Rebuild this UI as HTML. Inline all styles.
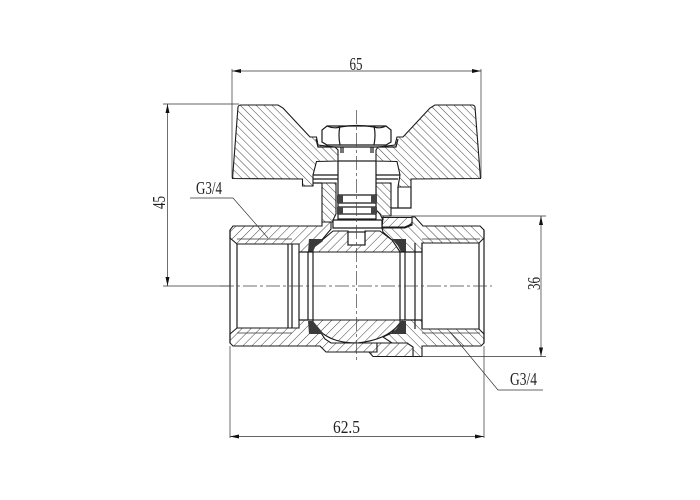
<!DOCTYPE html>
<html><head><meta charset="utf-8"><style>
html,body{margin:0;padding:0;background:#fff;width:700px;height:500px;overflow:hidden}
svg{display:block}
text{font-family:"Liberation Serif",serif;font-size:18px;fill:#222}
.k{stroke:#1a1a1a;stroke-width:1.2;fill:none}
.t{stroke:#333;stroke-width:.7;fill:none}
.b{stroke:#1a1a1a;stroke-width:1.1}
.c{stroke:#444;stroke-width:.7;fill:none;stroke-dasharray:14 3 3 3}
</style></head><body>
<svg width="700" height="500" viewBox="0 0 700 500" xmlns="http://www.w3.org/2000/svg">
<defs>
<pattern id="h1" width="5.6" height="5.6" patternUnits="userSpaceOnUse" patternTransform="rotate(-45)"><rect width="5.6" height="5.6" fill="#fff"/><line x1="0" y1="0" x2="0" y2="5.6" stroke="#444" stroke-width="1"/></pattern>
<pattern id="h3" width="6.4" height="6.4" patternUnits="userSpaceOnUse" patternTransform="rotate(-45)"><rect width="6.4" height="6.4" fill="#fff"/><line x1="0" y1="0" x2="0" y2="6.4" stroke="#444" stroke-width="1"/></pattern>
<pattern id="h2" width="6.4" height="6.4" patternUnits="userSpaceOnUse" patternTransform="rotate(45)"><rect width="6.4" height="6.4" fill="#fff"/><line x1="0" y1="0" x2="0" y2="6.4" stroke="#444" stroke-width="1"/></pattern>
</defs>
<rect width="700" height="500" fill="#fff"/>

<!-- body left -->
<path class="b" fill="url(#h2)" d="M233,226 H322 V222 H331 V229 L321,241 L313,246 V252 H299 V244 H237 L230,238 V230 Z"/>
<path class="b" fill="url(#h2)" d="M230,334 L237,328 H299 V320 H313 V324 L321,333 L325,339 L331,343 H377 V352 H326 L320,346 H233 L230,343 Z"/>
<!-- body right -->
<path class="b" fill="url(#h3)" d="M412,217 H415 L423,226 H480 L484,230 V238 L479,243 H422 V252 H400 L392,240 L383,232 L382,228 H405 L412,225 Z"/>
<path class="b" fill="url(#h2)" d="M383,217.500 H412 V224 L405,227 H382 Z"/>
<path class="b" fill="url(#h3)" d="M400,320 H422 V329 H479 L484,334 V343 L481,346 H422 V356.500 H413 V347 L407,343 H392 L383,337 L392,333 Z"/>
<path class="b" fill="url(#h2)" d="M377,343 H407 L413,347 V356.500 H373 L369,352 H377 Z"/>

<!-- ball -->
<path class="b" fill="url(#h2)" d="M313,252 V246 L321,241 L333,231 H348 V245 H365 V231 H380 L392,240 L400,252 Z"/>
<path class="b" fill="url(#h2)" d="M313,320 H400 V323 C392,334 378,341 357,343 C340,343 330,339 322,333 L313,324 Z"/>

<!-- seats -->
<path fill="#3a3a3a" d="M309,239 H322 L323,241 L315,247 L313,252 H308 Z"/>
<path fill="#3a3a3a" d="M392,239 H406 V252 H401 L398,246 Z"/>
<path fill="#3a3a3a" d="M308,321 H313 L323,333 V334 H309 Z"/>
<path fill="#3a3a3a" d="M401,321 H406 V334 H391 L397,328 Z"/>

<!-- bore -->
<path class="k" d="M308,252 V320 M313,252 V320 M299,252 V320 M400,252 V320 M405,252 V320 M415,243 V329 M422,243 V329 M299,252 H313 M400,252 H422 M299,320 H313 M400,320 H422"/>
<path class="k" d="M237,244 V328 M292,244 V328 M288,244 V328 M479,243 V329 M484,230 V343 M230,230 V343"/>
<path class="t" d="M237,239 H292 M237,333 H292 M422,239 H480 M422,333 H480"/>

<!-- stem housing -->
<path class="b" fill="url(#h1)" d="M322,183 H336 V214 L333,220 V222 H322 Z"/>
<path class="b" fill="url(#h1)" d="M376,183 H391 V216 H383 V220 L380,214 L376,210 Z"/>
<!-- stem -->
<rect x="338" y="161" width="38" height="58" fill="#fff" stroke="#1a1a1a" stroke-width="1.2"/>
<path fill="#fff" class="k" d="M333,220 H382 V228 H333 Z"/>
<path class="k" d="M339,195 H375 V203 H339 Z M339,207 H375 V214 H339 Z"/>
<rect x="337" y="195" width="6" height="8" fill="#444"/><rect x="371" y="195" width="6" height="8" fill="#444"/>
<rect x="337" y="207" width="6" height="7" fill="#444"/><rect x="371" y="207" width="6" height="7" fill="#444"/>
<rect x="348" y="232" width="17" height="13" fill="#fff" stroke="#1a1a1a" stroke-width="1.2"/>
<path class="k" d="M405,227 L412,224"/>

<!-- handle -->
<path class="b" fill="url(#h1)" d="M232.500,178.500 L238,107 Q238.500,105 241,105 H278 L283,108 L310,137 H316.500 L318,145 L335,147 L338,150 V161 L316.500,161.500 L313,175 V186 H302.500 V179 Z"/>
<path class="b" fill="url(#h1)" d="M480.500,178.500 L475,107 Q474.500,105 472,105 H435 L430,108 L403,137 H397 L395,145 L378,147 L376,150 V161 L397,161.500 L400,175 L398,187 H411 V179 Z"/>
<path class="k" d="M313,175 H338 M313,179 H338 M322,183 H313 M376,175 H400 M376,179 H398 M398,187 V208 H411 V187 M391,208 H398"/>
<path class="k" d="M316,139 L318,147 H396 L398,139"/>

<!-- hex nut -->
<path fill="#fff" stroke="#1a1a1a" stroke-width="1.2" d="M327,126 H386 L391,130 V142 L386,145 H327 L322,142 V130 Z"/>
<path class="k" d="M340,126 Q338,135 340,145 M374,126 Q376,135 374,145 M327,126 Q334,129 340,127 Q357,124 374,127 Q380,129 386,126"/>
<path class="k" d="M341,147 V153 M343,147 V153 M371,147 V153 M373,147 V153"/>

<!-- dimensions -->
<g class="t">
<path d="M232,69 V178 M481,69 V178 M232,71 H481"/>
<path d="M163,104 H239 M163,286 H230 M167.500,104 V286"/>
<path d="M391,216 H546 M422,356.500 H546 M541,216 V356.500"/>
<path d="M230,346 V438 M484,346 V438 M230,436.500 H484"/>
<path d="M190,198 H233 L268,238"/>
<path d="M450,332 L498,390 H543"/>
</g>
<path d="M232,71 l9,-2 v4 z M481,71 l-9,-2 v4 z M167.500,104 l-2,9 h4 z M167.500,286 l-2,-9 h4 z M541,216 l-2,9 h4 z M541,356.500 l-2,-9 h4 z M230,436.500 l9,-2 v4 z M484,436.500 l-9,-2 v4 z" fill="#111"/>

<!-- centre lines -->
<path class="c" d="M220,286 H492"/>
<path class="c" d="M356.500,110 V360"/>

<text x="349.500" y="70" textLength="13" lengthAdjust="spacingAndGlyphs">65</text>
<text x="196" y="194" textLength="26" lengthAdjust="spacingAndGlyphs">G3/4</text>
<text x="510" y="385" textLength="27" lengthAdjust="spacingAndGlyphs">G3/4</text>
<text x="333" y="433" textLength="27" lengthAdjust="spacingAndGlyphs">62.5</text>
<text transform="translate(165,209) rotate(-90)" textLength="13" lengthAdjust="spacingAndGlyphs">45</text>
<text transform="translate(540,290) rotate(-90)" textLength="13" lengthAdjust="spacingAndGlyphs">36</text>
</svg>
</body></html>
